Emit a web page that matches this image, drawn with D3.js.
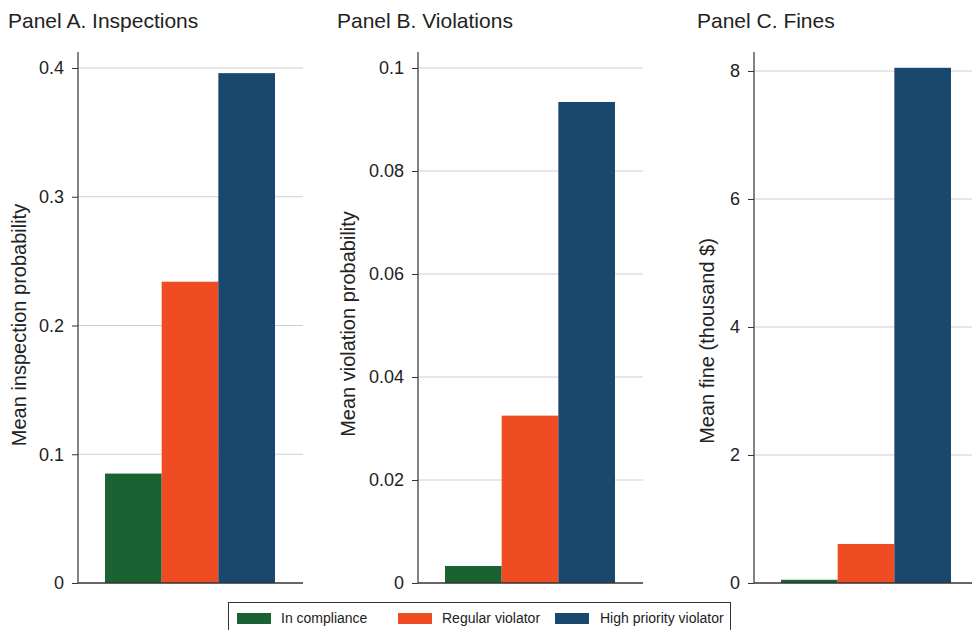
<!DOCTYPE html>
<html>
<head>
<meta charset="utf-8">
<script src="https://cdn.jsdelivr.net/npm/d3@7"></script>
<style>
  body { margin: 0; background: #fff; }
  svg { font-family: "Liberation Sans", Arial, sans-serif; }
  .tick text { font-size: 18px; fill: #222; }
  .panel-title { font-size: 21px; fill: #222; }
  .ylabel { font-size: 20px; fill: #222; }
  .legend-label { font-size: 14px; fill: #222; }
</style>
</head>
<body>
<svg id="chart"></svg>
<script>
// categories and values
const groups = ["In compliance", "Regular violator", "High priority violator"];
const colours = ["#1a6232", "#f04c23", "#1a476e"];

const inspections = [0.085, 0.234, 0.396];
const violations = [0.0033, 0.0325, 0.0934];
const fines = [0.05, 0.61, 8.05];

const inspectionTicks = [0, 0.1, 0.2, 0.3, 0.4];
const violationTicks = [0, 0.02, 0.04, 0.06, 0.08, 0.1];
const fineTicks = [0, 2, 4, 6, 8];

const panelTitles = ["Panel A. Inspections", "Panel B. Violations", "Panel C. Fines"];
const yLabels = ["Mean inspection probability", "Mean violation probability", "Mean fine (thousand $)"];

var wtot = 972,
    htot = 630;

const svg = d3.select("#chart")
    .attr("width", wtot)
    .attr("height", htot);

var panels = [
    { values: inspections, ticks: inspectionTicks, axisX: 78, topY: 68, titleX: 8, labelX: 26, labelY: 325 },
    { values: violations, ticks: violationTicks, axisX: 418, topY: 68, titleX: 337, labelX: 355, labelY: 324 },
    { values: fines, ticks: fineTicks, axisX: 754, topY: 71, titleX: 697, labelX: 714, labelY: 341 }
];

const zeroY = 583;
const axisTop = 52;
const plotWidth = 225;

panels.forEach((p, k) => {
    const g = svg.append("g");

    let y = d3.scaleLinear()
        .domain([0, d3.max(p.ticks)])
        .range([zeroY, p.topY]);

    let x = d3.scaleBand()
        .domain(groups)
        .range([p.axisX + 27, p.axisX + 197]);

    // gridlines
    g.append("g")
        .selectAll("line")
        .data(p.ticks.filter(d => d > 0))
        .join("line")
        .attr("x1", p.axisX)
        .attr("x2", p.axisX + plotWidth)
        .attr("y1", d => y(d))
        .attr("y2", d => y(d))
        .attr("stroke", "#cfcfcf")
        .attr("stroke-width", 1);

    // bars
    g.append("g")
        .selectAll("rect")
        .data(p.values)
        .join("rect")
        .attr("x", (d, i) => x(groups[i]))
        .attr("width", x.bandwidth())
        .attr("y", d => y(d))
        .attr("height", d => y(0) - y(d))
        .attr("fill", (d, i) => colours[i]);

    // y axis
    const yAxis = d3.axisLeft(y)
        .tickValues(p.ticks)
        .tickSize(6)
        .tickPadding(8)
        .tickFormat(d => d === 0 ? "0" : String(d));

    const ax = g.append("g")
        .attr("transform", `translate(${p.axisX},0)`)
        .call(yAxis);
    ax.select(".domain").remove();
    ax.selectAll(".tick line").attr("stroke", "#333");
    ax.append("line")
        .attr("x1", 0).attr("x2", 0)
        .attr("y1", axisTop).attr("y2", zeroY)
        .attr("stroke", "#333")
        .attr("stroke-width", 1.2);

    // x axis baseline
    g.append("line")
        .attr("x1", p.axisX)
        .attr("x2", p.axisX + plotWidth)
        .attr("y1", zeroY)
        .attr("y2", zeroY)
        .attr("stroke", "#333")
        .attr("stroke-width", 1.5);

    // panel title
    svg.append("text")
        .attr("class", "panel-title")
        .attr("x", p.titleX)
        .attr("y", 28)
        .text(panelTitles[k]);

    // y label
    svg.append("text")
        .attr("class", "ylabel")
        .attr("transform", `translate(${p.labelX},${p.labelY}) rotate(-90)`)
        .style("text-anchor", "middle")
        .text(yLabels[k]);
});

// legend
const legend = svg.append("g");
legend.append("rect")
    .attr("x", 228.5)
    .attr("y", 602.5)
    .attr("width", 502)
    .attr("height", 40)
    .attr("fill", "none")
    .attr("stroke", "#333")
    .attr("stroke-width", 1);

const legendX = [237, 398, 555];
groups.forEach((name, i) => {
    legend.append("rect")
        .attr("x", legendX[i])
        .attr("y", 613)
        .attr("width", 34)
        .attr("height", 11)
        .attr("fill", colours[i]);
    legend.append("text")
        .attr("class", "legend-label")
        .attr("x", legendX[i] + (i == 2 ? 45 : 44))
        .attr("y", 623)
        .text(name);
});
</script>
</body>
</html>
